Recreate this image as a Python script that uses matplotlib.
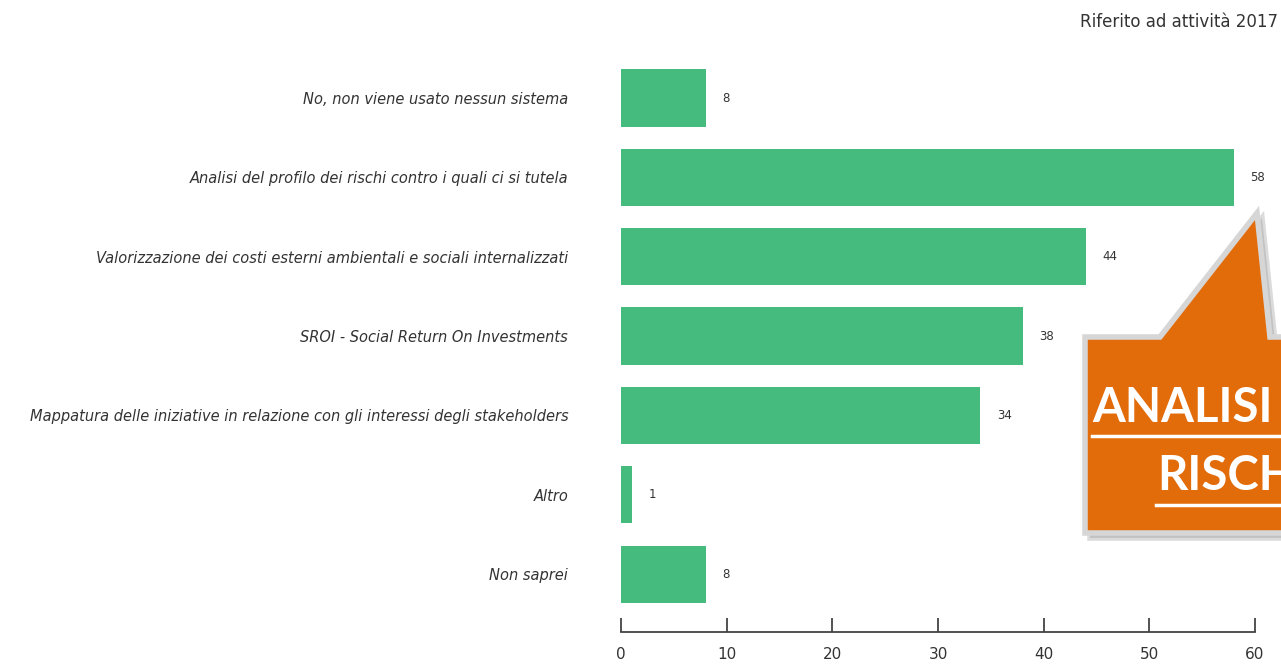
import matplotlib
matplotlib.use("Agg")
import matplotlib.pyplot as plt
from matplotlib.patches import Polygon
from matplotlib.lines import Line2D

categories = [
    "No, non viene usato nessun sistema",
    "Analisi del profilo dei rischi contro i quali ci si tutela",
    "Valorizzazione dei costi esterni ambientali e sociali internalizzati",
    "SROI - Social Return On Investments",
    "Mappatura delle iniziative in relazione con gli interessi degli stakeholders",
    "Altro",
    "Non saprei",
]
values = [8, 58, 44, 38, 34, 1, 8]
x_ticks = [0, 10, 20, 30, 40, 50, 60]
note = "Riferito ad attività 2017"
callout_lines = ["ANALISI DEI", "RISCHI"]

W, H = 1281, 664
fig = plt.figure(figsize=(W / 100, H / 100), dpi=100)
fig.patch.set_facecolor("white")


def px(x, y):
    """Pixel position (from top-left) to figure fraction."""
    return x / W, 1 - y / H


ax = fig.add_axes([621 / W, 1 - 632 / H, (1255 - 621) / W, (632 - 50.4) / H])
ypos = list(range(len(categories)))
ax.barh(ypos, values, height=0.72, color="#45BB7E", edgecolor="none")
ax.set_xlim(0, 60)
ax.set_ylim(6.73, -0.6)

for y, v in zip(ypos, values):
    ax.annotate(str(v), (v, y), xytext=(12, 0), textcoords="offset points",
                va="center", ha="left", fontsize=8.5, color="#333333")

for s in ["top", "right", "left"]:
    ax.spines[s].set_visible(False)
ax.spines["bottom"].set_color("#444444")
ax.spines["bottom"].set_linewidth(1.3)
ax.set_xticks(x_ticks)
ax.tick_params(axis="x", direction="in", length=10, width=1.3, color="#444444",
               pad=11, labelsize=11, labelcolor="#333333")
ax.set_yticks(ypos)
ax.set_yticklabels(categories, fontstyle="italic", fontsize=10.5, color="#333333")
ax.tick_params(axis="y", length=0, pad=38)

fig.text(1278 / W, 1 - 22 / H, note, ha="right", va="center",
         fontsize=12, color="#333333")

# Callout box with pointer
pts = [(1085, 337), (1160, 337), (1257, 213), (1270, 337), (1300, 337),
       (1300, 533), (1085, 533)]
shadow = [(x + 5, y + 5) for x, y in pts]
fig.patches.append(Polygon([px(*p) for p in shadow], closed=True,
                           transform=fig.transFigure, facecolor="#9a9a9a",
                           edgecolor="#b0b0b0", linewidth=4, alpha=0.45,
                           zorder=5))
box = Polygon([px(*p) for p in pts], closed=True,
              transform=fig.transFigure, facecolor="#E36C0A",
              edgecolor="#D6D6D6", linewidth=4, joinstyle="miter", zorder=6)
fig.patches.append(box)

# Text runs past the right edge of the callout and is clipped by its shape
t1 = fig.text(*px(1092, 422), callout_lines[0], ha="left", va="baseline",
              fontsize=34, fontweight="bold", color="white", family="Lato",
              zorder=7)
t2 = fig.text(*px(1157, 490), callout_lines[1], ha="left", va="baseline",
              fontsize=34, fontweight="bold", color="white", family="Lato",
              zorder=7)
for t in (t1, t2):
    t.set_clip_path(box)
fig.lines.append(Line2D([1092 / W, 1.0], [1 - 436 / H] * 2,
                        transform=fig.transFigure, color="white", lw=2.5,
                        zorder=7))
fig.lines.append(Line2D([1156 / W, 1.0], [1 - 505 / H] * 2,
                        transform=fig.transFigure, color="white", lw=2.5,
                        zorder=7))

fig.savefig("out.png", dpi=100)
